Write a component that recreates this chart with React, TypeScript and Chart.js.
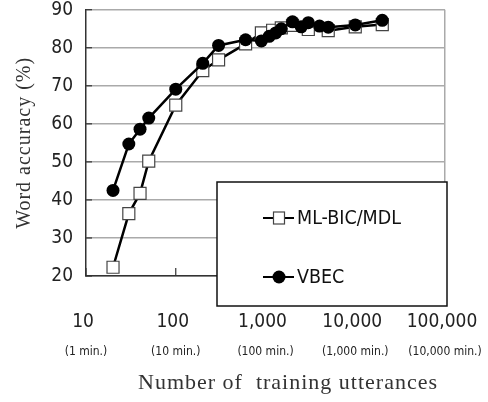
import React, { useEffect, useRef } from "react";
import { Chart, registerables } from "chart.js";

Chart.register(...registerables);

// ---- data ----
const seriesNames = ["ML-BIC/MDL", "VBEC"];
const mlUtterances = [20, 30, 40, 50, 100, 200, 300, 600, 900, 1200, 1500, 2000, 3000, 5000, 10000, 20000];
const mlAccuracy = [22.3, 36.4, 41.7, 50.2, 64.9, 74.0, 76.8, 81.0, 83.9, 84.6, 85.2, 85.9, 84.8, 84.5, 85.5, 86.1];
const vbecUtterances = [20, 30, 40, 50, 100, 200, 300, 600, 900, 1100, 1300, 1500, 2000, 2500, 3000, 4000, 5000, 10000, 20000];
const vbecAccuracy = [42.5, 54.7, 58.6, 61.5, 69.1, 75.9, 80.6, 82.1, 81.8, 83.0, 83.9, 85.0, 86.8, 85.5, 86.6, 85.7, 85.4, 86.0, 87.2];
const xTickValues = [10, 100, 1000, 10000, 100000];
const xTickLabels = ["10", "100", "1,000", "10,000", "100,000"];
const xSubLabels = ["(1 min.)", "(10 min.)", "(100 min.)", "(1,000 min.)", "(10,000 min.)"];
const yTickValues = [20, 30, 40, 50, 60, 70, 80, 90];
const xTitle = "Number of  training utterances";
const yTitle = "Word accuracy (%)";

const NARROW = "'Liberation Sans Narrow', 'DejaVu Sans Condensed', 'Liberation Sans', Arial, sans-serif";
const SERIF = "'Liberation Serif', 'DejaVu Serif', serif";

const decorPlugin = {
  id: "decor",
  afterDraw(chart: any) {
    const ctx = chart.ctx;
    const xs = chart.scales.x;
    const ys = chart.scales.y;
    const area = chart.chartArea;
    ctx.save();
    // inner ticks
    ctx.strokeStyle = "#333";
    ctx.lineWidth = 1.2;
    yTickValues.forEach((v) => {
      const py = ys.getPixelForValue(v);
      ctx.beginPath();
      ctx.moveTo(area.left, py);
      ctx.lineTo(area.left + 6, py);
      ctx.stroke();
    });
    xTickValues.forEach((v) => {
      const px = xs.getPixelForValue(v);
      ctx.beginPath();
      ctx.moveTo(px, area.bottom);
      ctx.lineTo(px, area.bottom - 8);
      ctx.stroke();
    });
    // x tick labels
    ctx.fillStyle = "#222";
    ctx.textAlign = "center";
    ctx.textBaseline = "middle";
    xTickValues.forEach((v, i) => {
      const px = xs.getPixelForValue(v);
      ctx.font = `19px ${NARROW}`;
      ctx.fillText(xTickLabels[i], px - 3, 322);
      ctx.font = `12px ${NARROW}`;
      ctx.fillText(xSubLabels[i], px, 352);
    });
    // titles
    ctx.fillStyle = "#333";
    ctx.font = `22px ${SERIF}`;
    try { (ctx as any).letterSpacing = "1px"; } catch (e) {}
    ctx.fillText(xTitle, 288, 383);
    ctx.save();
    ctx.translate(25, (area.top + area.bottom) / 2);
    ctx.rotate(-Math.PI / 2);
    ctx.font = `20px ${SERIF}`;
    ctx.fillText(yTitle, 0, 0);
    ctx.restore();
    try { (ctx as any).letterSpacing = "0px"; } catch (e) {}
    // legend
    const bx = 217, by = 182, bw = 230, bh = 124;
    ctx.fillStyle = "#fff";
    ctx.fillRect(bx, by, bw, bh);
    ctx.strokeStyle = "#111";
    ctx.lineWidth = 1.5;
    ctx.strokeRect(bx, by, bw, bh);
    const rows = [
      { ds: chart.data.datasets[1], y: 218 },
      { ds: chart.data.datasets[0], y: 277 },
    ];
    rows.forEach((r) => {
      const mx = 279;
      ctx.strokeStyle = "#000";
      ctx.lineWidth = 2;
      ctx.beginPath();
      ctx.moveTo(263, r.y);
      ctx.lineTo(294, r.y);
      ctx.stroke();
      if (r.ds.pointStyle === "rect") {
        ctx.fillStyle = "#fff";
        ctx.fillRect(mx - 5.5, r.y - 6, 11, 12);
        ctx.strokeStyle = "#444";
        ctx.lineWidth = 1.2;
        ctx.strokeRect(mx - 5.5, r.y - 6, 11, 12);
      } else {
        ctx.fillStyle = "#000";
        ctx.beginPath();
        ctx.arc(mx, r.y, 6.5, 0, Math.PI * 2);
        ctx.fill();
      }
      ctx.fillStyle = "#111";
      ctx.textAlign = "left";
      ctx.font = `19.5px ${NARROW}`;
      ctx.fillText(r.ds.label, 297, r.y + 1);
    });
    ctx.restore();
  },
};

export default function App() {
  const ref = useRef<HTMLCanvasElement | null>(null);
  useEffect(() => {
    document.body.style.margin = "0";
    const canvas = ref.current!;
    const chart = new Chart(canvas, {
      type: "line",
      data: {
        datasets: [
          {
            label: seriesNames[1],
            data: vbecUtterances.map((x, i) => ({ x, y: vbecAccuracy[i] })),
            borderColor: "#000",
            borderWidth: 2.5,
            pointStyle: "circle",
            pointRadius: 6.5,
            pointBackgroundColor: "#000",
            pointBorderColor: "#000",
            pointBorderWidth: 0,
            tension: 0,
          },
          {
            label: seriesNames[0],
            data: mlUtterances.map((x, i) => ({ x, y: mlAccuracy[i] })),
            borderColor: "#000",
            borderWidth: 2.5,
            pointStyle: "rect",
            pointRadius: 8.5,
            pointBackgroundColor: "#fff",
            pointBorderColor: "#444",
            pointBorderWidth: 1.2,
            tension: 0,
          },
        ],
      },
      options: {
        animation: false,
        responsive: true,
        maintainAspectRatio: false,
        layout: { padding: { left: 0, top: 8, right: 43, bottom: 0 } },
        plugins: { legend: { display: false }, tooltip: { enabled: false } },
        scales: {
          x: {
            type: "logarithmic",
            min: 10,
            max: 100000,
            ticks: { display: false },
            grid: {
              drawTicks: false,
              color: (c: any) => (c.tick && c.tick.value === 100000 ? "#aaa" : "rgba(0,0,0,0)"),
              lineWidth: 1.5,
            },
            border: { color: "#333", width: 1.5 },
            afterFit: (s: any) => {
              s.height = 126;
              s.paddingLeft = 0;
              s.paddingRight = 0;
            },
          },
          y: {
            min: 20,
            max: 90,
            ticks: {
              stepSize: 10,
              padding: 13,
              color: "#222",
              font: { family: NARROW, size: 19 },
            },
            grid: { drawTicks: false, color: "#aaa", lineWidth: 1.5 },
            border: { color: "#333", width: 1.5 },
            afterFit: (s: any) => {
              s.width = 86;
              s.paddingTop = 0;
              s.paddingBottom = 0;
            },
          },
        },
      },
      plugins: [decorPlugin],
    });
    return () => chart.destroy();
  }, []);
  return (
    <div style={{ position: "fixed", left: 0, top: 0, width: 488, height: 402, background: "#fff" }}>
      <canvas ref={ref} />
    </div>
  );
}
